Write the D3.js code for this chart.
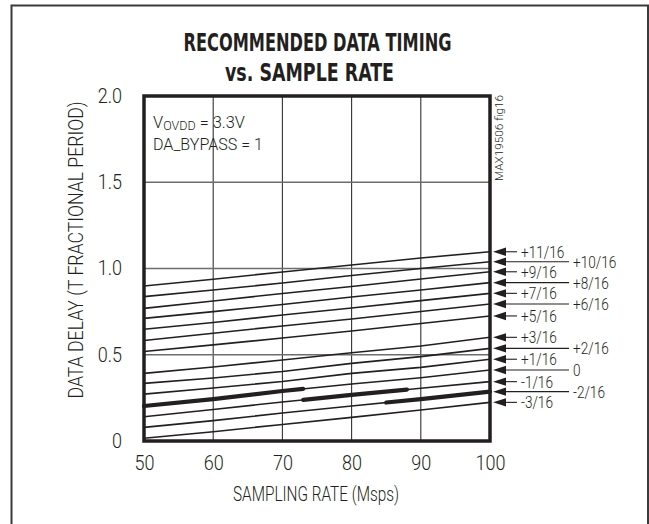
<!DOCTYPE html>
<html>
<head>
<meta charset="utf-8">
<script src="https://cdn.jsdelivr.net/npm/d3@7"></script>
<style>
  html, body { margin: 0; padding: 0; background: #fff; }
  svg { display: block; }
  text { font-family: Roboto, "Liberation Sans", sans-serif; font-weight: 300; fill: #231f20; }
  text.title { font-family: "DejaVu Sans Condensed", "DejaVu Sans", sans-serif; font-weight: bold; }
</style>
</head>
<body>
<svg id="chart" width="649" height="524"></svg>
<script>
// ---------- data ----------
const titleLines = ["RECOMMENDED DATA TIMING", "vs. SAMPLE RATE"];
const xTickValues = [50, 60, 70, 80, 90, 100];
const yTickValues = [0, 0.5, 1.0, 1.5, 2.0];
const yTickLabels = ["0", "0.5", "1.0", "1.5", "2.0"];
const sampleRate = [50, 60, 70, 80, 90, 100];

const seriesLabels = ["+11/16", "+10/16", "+9/16", "+8/16", "+7/16", "+6/16", "+5/16",
                      "+3/16", "+2/16", "+1/16", "0", "-1/16", "-2/16", "-3/16"];
const delayP11 = [0.899, 0.938, 0.980, 1.020, 1.061, 1.097];
const delayP10 = [0.837, 0.875, 0.916, 0.959, 1.000, 1.039];
const delayP9  = [0.769, 0.812, 0.855, 0.896, 0.939, 0.981];
const delayP8  = [0.711, 0.750, 0.791, 0.835, 0.875, 0.918];
const delayP7  = [0.648, 0.687, 0.730, 0.771, 0.814, 0.856];
const delayP6  = [0.583, 0.625, 0.667, 0.707, 0.751, 0.794];
const delayP5  = [0.519, 0.557, 0.597, 0.638, 0.681, 0.725];
const delayP3  = [0.392, 0.429, 0.470, 0.512, 0.551, 0.601];
const delayP2  = [0.334, 0.365, 0.403, 0.450, 0.489, 0.537];
const delayP1  = [0.272, 0.307, 0.345, 0.392, 0.427, 0.474];
const delay0   = [0.203, 0.243, 0.290, 0.330, 0.367, 0.412];
const delayM1  = [0.141, 0.183, 0.226, 0.267, 0.306, 0.344];
const delayM2  = [0.079, 0.118, 0.162, 0.203, 0.243, 0.286];
const delayM3  = [0.016, 0.054, 0.096, 0.137, 0.180, 0.224];

// recommended (bold) ranges
const boldSeries = ["0", "-1/16", "-2/16"];
const boldFrom = [50, 73, 85];
const boldTo = [73, 88, 100];

const annotation1 = ["V", "OVDD", " = 3.3V"];
const annotation2 = "DA_BYPASS = 1";
const figId = "MAX19506 fig16";
const xTitle = "SAMPLING RATE (Msps)";
const yTitle = "DATA DELAY (T FRACTIONAL PERIOD)";

// ---------- build ----------
const allDelays = [delayP11, delayP10, delayP9, delayP8, delayP7, delayP6, delayP5,
                   delayP3, delayP2, delayP1, delay0, delayM1, delayM2, delayM3];
const series = seriesLabels.map((label, i) => ({
  label,
  values: allDelays[i].map((v, j) => ({ x: sampleRate[j], y: v }))
}));

const svg = d3.select("#chart");
const plot = { left: 144, right: 490, top: 96, bottom: 441 };
const x = d3.scaleLinear().domain([50, 100]).range([plot.left, plot.right]);
const y = d3.scaleLinear().domain([0, 2]).range([plot.bottom, plot.top]);
const ink = "#231f20";

function condense(sel, f) {
  sel.each(function () {
    const w = this.getComputedTextLength();
    d3.select(this).attr("textLength", w * f).attr("lengthAdjust", "spacingAndGlyphs");
  });
}

// outer frame
svg.append("rect")
  .attr("x", 11.5).attr("y", 5.5).attr("width", 636.5).attr("height", 600)
  .attr("fill", "none").attr("stroke", "#3a3a3a").attr("stroke-width", 2);

// title
svg.append("text").attr("class", "title").attr("x", 183.5).attr("y", 50.5)
  .attr("font-size", 24)
  .attr("textLength", 268).attr("lengthAdjust", "spacingAndGlyphs")
  .text(titleLines[0]);
svg.append("text").attr("class", "title").attr("x", 225).attr("y", 81)
  .attr("font-size", 24)
  .attr("textLength", 169).attr("lengthAdjust", "spacingAndGlyphs")
  .text(titleLines[1]);

// gridlines
svg.append("g").selectAll("line")
  .data(xTickValues.filter(v => v > 50 && v < 100))
  .join("line")
  .attr("x1", d => x(d)).attr("x2", d => x(d))
  .attr("y1", plot.top).attr("y2", plot.bottom)
  .attr("stroke", "#333").attr("stroke-width", 1.1);
svg.append("g").selectAll("line")
  .data(yTickValues.filter(v => v > 0 && v < 2))
  .join("line")
  .attr("x1", plot.left).attr("x2", plot.right)
  .attr("y1", d => y(d)).attr("y2", d => y(d))
  .attr("stroke", "#6d6d6d").attr("stroke-width", 1.3);

// data lines
const line = d3.line().x(d => x(d.x)).y(d => y(d.y)).curve(d3.curveLinear);
svg.append("g").selectAll("path")
  .data(series)
  .join("path")
  .attr("d", d => line(d.values))
  .attr("fill", "none").attr("stroke", ink).attr("stroke-width", 1.6);

// bold recommended segments
boldSeries.forEach((lab, i) => {
  const s = series.find(d => d.label === lab);
  const interp = d3.scaleLinear().domain(sampleRate).range(s.values.map(d => d.y));
  const pts = [boldFrom[i], ...sampleRate.filter(v => v > boldFrom[i] && v < boldTo[i]), boldTo[i]]
    .map(v => ({ x: v, y: interp(v) }));
  svg.append("path").attr("d", line(pts))
    .attr("fill", "none").attr("stroke", ink).attr("stroke-width", 4.2)
    .attr("stroke-linecap", "round");
});

// axes border
svg.append("rect")
  .attr("x", plot.left).attr("y", plot.top)
  .attr("width", plot.right - plot.left).attr("height", plot.bottom - plot.top)
  .attr("fill", "none").attr("stroke", ink).attr("stroke-width", 3.5);

// axes tick labels
const xAxis = d3.axisBottom(x).tickValues(xTickValues).tickSize(0).tickPadding(15)
  .tickFormat(d3.format("d"));
const gx = svg.append("g").attr("transform", `translate(0,${plot.bottom})`).call(xAxis);
gx.select(".domain").remove();
gx.selectAll("text").attr("font-size", 20).attr("fill", ink)
  .style("font-family", "Roboto, sans-serif").style("font-weight", 300);
condense(gx.selectAll("text"), 0.9);

const yAxis = d3.axisLeft(y).tickValues(yTickValues).tickSize(0).tickPadding(22)
  .tickFormat((d, i) => yTickLabels[i]);
const gy = svg.append("g").attr("transform", `translate(${plot.left},0)`).call(yAxis);
gy.select(".domain").remove();
gy.selectAll("text").attr("font-size", 20).attr("fill", ink)
  .style("font-family", "Roboto, sans-serif").style("font-weight", 300);
condense(gy.selectAll("text"), 0.9);

// axis titles
svg.append("text").attr("x", 316).attr("y", 501).attr("text-anchor", "middle")
  .attr("font-size", 20).attr("textLength", 166).attr("lengthAdjust", "spacingAndGlyphs")
  .text(xTitle);
svg.append("text").attr("transform", "translate(83,250) rotate(-90)")
  .attr("text-anchor", "middle")
  .attr("font-size", 20).attr("textLength", 297).attr("lengthAdjust", "spacingAndGlyphs")
  .text(yTitle);

// annotation
const a1 = svg.append("text").attr("x", 153).attr("y", 127.5).attr("font-size", 17)
  .attr("textLength", 92).attr("lengthAdjust", "spacingAndGlyphs");
a1.append("tspan").text(annotation1[0]);
a1.append("tspan").attr("font-size", 13).attr("dy", 2.5).text(annotation1[1]);
a1.append("tspan").attr("dy", -2.5).text(annotation1[2]);
svg.append("text").attr("x", 153).attr("y", 149.5).attr("font-size", 17)
  .attr("textLength", 110).attr("lengthAdjust", "spacingAndGlyphs")
  .text(annotation2);

// figure id
svg.append("text").attr("transform", "translate(503,181) rotate(-90)")
  .attr("font-size", 10).attr("textLength", 86).attr("lengthAdjust", "spacingAndGlyphs")
  .text(figId);

// right-side arrow labels
const tipX = plot.right + 3;
const labels = svg.append("g");
series.forEach(s => {
  const last = s.values[s.values.length - 1];
  const yy = y(last.y);
  const num = parseInt(s.label.replace("+", "").split("/")[0], 10);
  const long = num % 2 === 0;
  const endX = long ? 569 : 517;
  labels.append("path")
    .attr("d", `M${tipX},${yy} L${tipX + 13},${yy - 4.2} L${tipX + 13},${yy + 4.2} Z`)
    .attr("fill", ink);
  labels.append("line")
    .attr("x1", tipX + 12).attr("x2", endX).attr("y1", yy).attr("y2", yy)
    .attr("stroke", ink).attr("stroke-width", 1.1);
  const t = labels.append("text")
    .attr("x", endX + 4).attr("y", yy).attr("dy", "0.36em")
    .attr("font-size", 17).text(s.label);
  condense(t, 0.8);
});
</script>
</body>
</html>
